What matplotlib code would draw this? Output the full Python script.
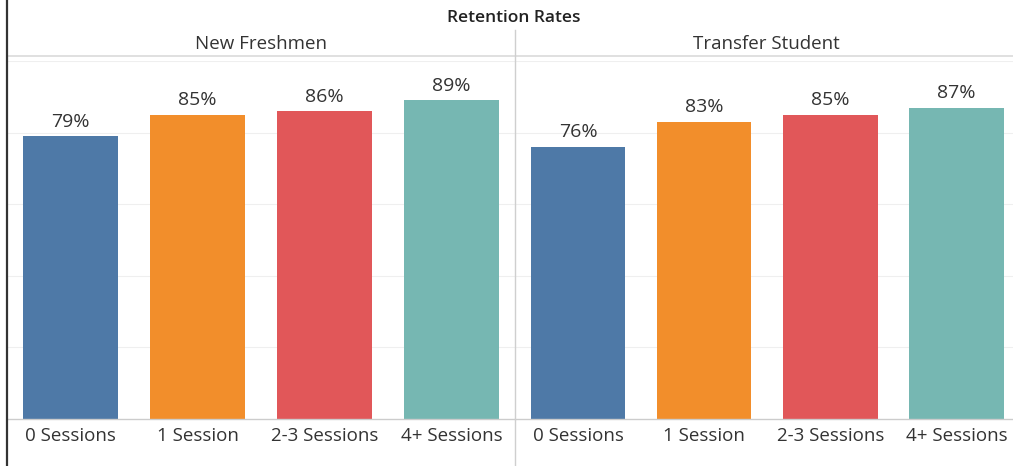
import matplotlib
matplotlib.use('Agg')
import matplotlib.pyplot as plt
from matplotlib.lines import Line2D

# data
sessions = ['0 Sessions', '1 Session', '2-3 Sessions', '4+ Sessions']
freshmen = [79, 85, 86, 89]
transfer = [76, 83, 85, 87]
panels = ['New Freshmen', 'Transfer Student']
colors = ['#4e79a7', '#f28e2b', '#e15759', '#76b7b2']

W, H = 1013, 466
plt.rcParams['font.family'] = ['Open Sans', 'DejaVu Sans']

fig = plt.figure(figsize=(W / 100, H / 100), dpi=100)


def fx(px):
    return px / W


def fy(py):
    return 1 - py / H


base_y, top_y = 419, 61
panel_x = [(7, 515), (515, 1019.5)]
header_x = [261, 766]

for (x0, x1), hx, name, vals in zip(panel_x, header_x, panels, [freshmen, transfer]):
    ax = fig.add_axes([fx(x0), fy(base_y), fx(x1 - x0), (base_y - top_y) / H])
    ax.bar(range(4), vals, width=0.75, color=colors)
    ax.set_xlim(-0.5, 3.5)
    ax.set_ylim(0, 100)
    for i, v in enumerate(vals):
        ax.annotate(f'{v}%', (i, v), xytext=(0, 4), textcoords='offset points',
                    ha='center', va='bottom', fontsize=14, color='#333333')
    for g in [20, 40, 60, 80, 100]:
        ax.axhline(g, color='#efefef', lw=0.8, zorder=0)
    ax.set_xticks(range(4))
    ax.set_xticklabels(sessions, fontsize=13.5, color='#333333')
    ax.tick_params(axis='x', length=0, pad=6)
    ax.set_yticks([])
    for s in ['top', 'left', 'right']:
        ax.spines[s].set_visible(False)
    ax.spines['bottom'].set_color('#cccccc')
    ax.spines['bottom'].set_linewidth(1)
    fig.text(fx(hx), fy(44), name, ha='center', va='center',
             fontsize=13.5, color='#333333')

fig.text(fx(514), fy(18), 'Retention Rates', ha='center', va='center',
         fontsize=12.5, fontweight='semibold', color='#222222')

# header line, panel divider, left border
fig.add_artist(Line2D([fx(7), 1], [fy(56), fy(56)], color='#dadada', lw=1.2))
fig.add_artist(Line2D([fx(515), fx(515)], [fy(30), 0], color='#cfcfcf', lw=1))
fig.add_artist(Line2D([fx(7), fx(7)], [0, 1], color='#333333', lw=1.6))

fig.savefig('out.png', dpi=100)
